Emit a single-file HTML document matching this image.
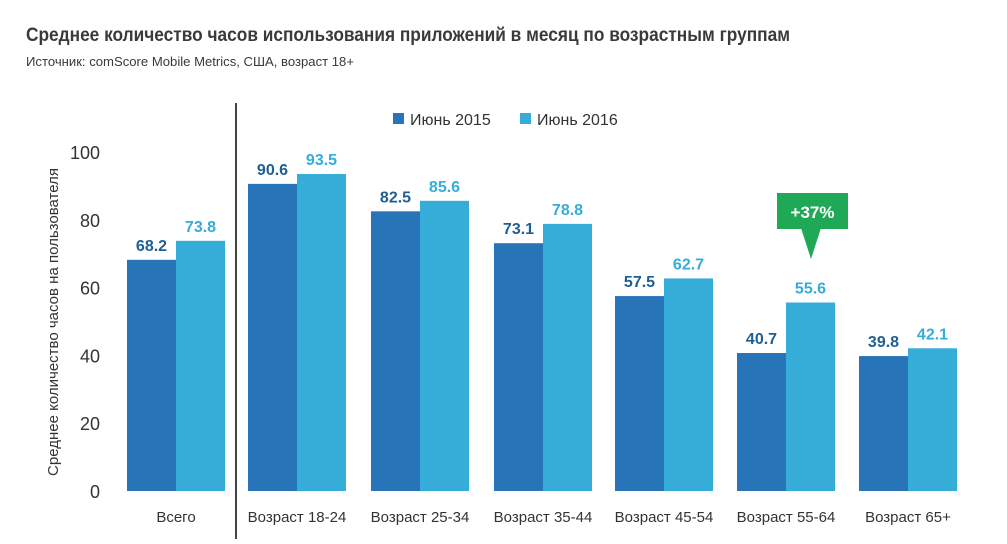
<!DOCTYPE html>
<html><head><meta charset="utf-8"><style>
html,body{margin:0;padding:0;background:#fff;}
svg{display:block;font-family:"Liberation Sans","DejaVu Sans",sans-serif;}
</style></head><body>
<svg id="chart" width="1007" height="544" viewBox="0 0 1007 544">
<text x="26" y="41" font-size="19" font-weight="bold" fill="#3a3a3a" textLength="764" lengthAdjust="spacingAndGlyphs">Среднее количество часов использования приложений в месяц по возрастным группам</text>
<text x="26" y="66" font-size="13" fill="#3a3a3a" textLength="328" lengthAdjust="spacingAndGlyphs">Источник: comScore Mobile Metrics, США, возраст 18+</text>
<line x1="236" y1="103" x2="236" y2="539" stroke="#444" stroke-width="2"/>
<g>
<rect x="393" y="113" width="11" height="11" fill="#2874b8"/>
<text x="410" y="125" font-size="16" fill="#333">Июнь 2015</text>
<rect x="520" y="113" width="11" height="11" fill="#36acd8"/>
<text x="537" y="125" font-size="16" fill="#333">Июнь 2016</text>
</g>
<text transform="translate(58,322) rotate(-90)" text-anchor="middle" font-size="15" fill="#333">Среднее количество часов на пользователя</text>
<g id="yticks"></g>
<g id="bars"></g>
<g>
<rect x="777" y="193" width="71" height="36" fill="#1fa855"/>
<polygon points="801,228 821,228 811,259" fill="#1fa855"/>
<text x="812.5" y="218" text-anchor="middle" font-size="17" font-weight="bold" fill="#fff">+37%</text>
</g>
</svg>
<script>
const categories = ["Всего","Возраст 18-24","Возраст 25-34","Возраст 35-44","Возраст 45-54","Возраст 55-64","Возраст 65+"];
const series2015 = [68.2,90.6,82.5,73.1,57.5,40.7,39.8];
const series2016 = [73.8,93.5,85.6,78.8,62.7,55.6,42.1];
const yTicks = [0,20,40,60,80,100];
const NS="http://www.w3.org/2000/svg";
const y0=491, y100=152;
function yScale(v){return y0-(y0-y100)*v/100;}
const groupStart=[127,248,371,494,615,737,859];
function xScale(i){return groupStart[i];}
const bw=49;
const yt=document.getElementById('yticks');
yTicks.forEach(t=>{
 const e=document.createElementNS(NS,'text');
 
 
 e.setAttribute('x',100);e.setAttribute('y',yScale(t)+7);
 e.setAttribute('text-anchor','end');e.setAttribute('font-size','18');e.setAttribute('fill','#333');
 e.textContent=t;yt.appendChild(e);
});
const g=document.getElementById('bars');
function mk(tag,attrs){const e=document.createElementNS(NS,tag);for(const k in attrs)e.setAttribute(k,attrs[k]);g.appendChild(e);return e;}
categories.forEach((c,i)=>{
 const x=xScale(i);
 [[series2015,'#2874b8','#1f5f94',0,'2015'],[series2016,'#36acd8','#36acd8',bw,'2016']].forEach(s=>{
  const v=s[0][i];
  const r=mk('rect',{x:x+s[3],y:yScale(v),width:bw,height:y0-yScale(v),fill:s[1]});
  
  
  const t=mk('text',{x:x+s[3]+bw/2,y:yScale(v)-9,'text-anchor':'middle','font-size':'16','font-weight':'bold',fill:s[2]});
  
  
  t.textContent=v.toFixed(1);
 });
 const l=mk('text',{x:x+bw,y:522,'text-anchor':'middle','font-size':'15',fill:'#333'});
 
 
 l.textContent=c;
});
</script>
</body></html>
